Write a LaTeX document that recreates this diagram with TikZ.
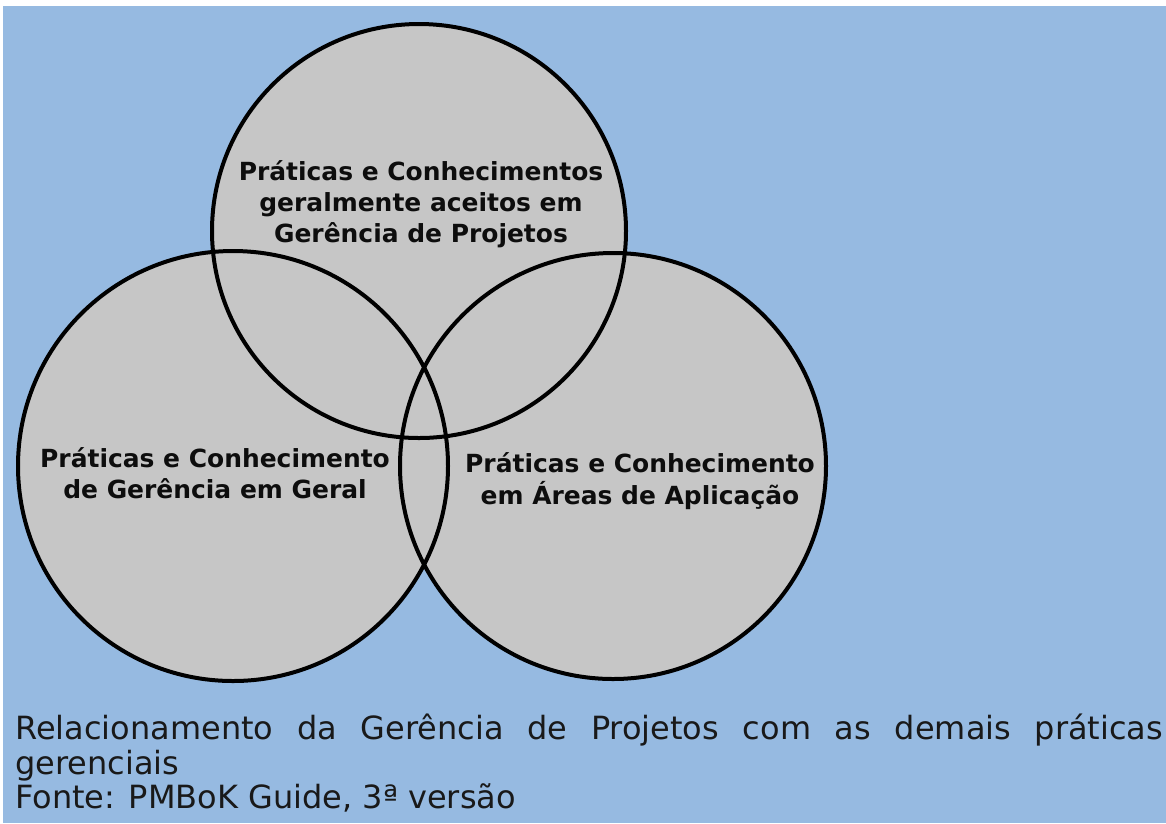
\documentclass[tikz,border=0pt]{standalone}
\usepackage{fontspec}
\setmainfont{DejaVu Sans}
\definecolor{fundo}{RGB}{150,186,225}
\definecolor{cinza}{RGB}{198,198,198}
\tikzset{
  % fill
	cstfill/.style   ={fill=cinza},
  % curve
	cstcurve/.style  ={line width=0.08cm, black},
  % node
	csttext/.style   ={align=center, inner sep=0pt, text=black!95,
		font=\bfseries\fontsize{14.2}{17.8}\selectfont},
	cstcap/.style    ={align=justify, inner sep=0pt, text=black!90,
		text width=22.96cm, font=\fontsize{18.2}{19.4}\selectfont}
}
\begin{document}
\begin{tikzpicture}[x=0.02cm,y=-0.02cm]
	\useasboundingbox (0,0) rectangle (1166,823);
	\fill[white] (0,0) rectangle (1166,823);
	\fill[fundo] (3,6) rectangle (1166,823);
	\coordinate (T) at (419,231);
	\coordinate (L) at (233,466);
	\coordinate (R) at (613,466);
	\begin{scope}[cstfill]
		\fill (T) circle (207);
		\fill (L) circle (215);
		\fill (R) circle (213);
	\end{scope}
	\begin{scope}[cstcurve]
		\draw (T) circle (207);
		\draw (L) circle (215);
		\draw (R) circle (213);
	\end{scope}
	\node[csttext] (ptop) at (421,204) {Práticas e Conhecimentos\\geralmente aceitos em\\Gerência de Projetos};
	\node[csttext] (pleft) at (215,473) {Práticas e Conhecimento\\de Gerência em Geral};
	\node[csttext] (pright) at (640,481) {Práticas e Conhecimento\\em Áreas de Aplicação};
	\node[cstcap, anchor=north west] (cap) at (15,714) {Relacionamento da Gerência de Projetos com as demais práticas\linebreak gerenciais\\Fonte: PMBoK Guide, 3ª versão};
\end{tikzpicture}
\end{document}
